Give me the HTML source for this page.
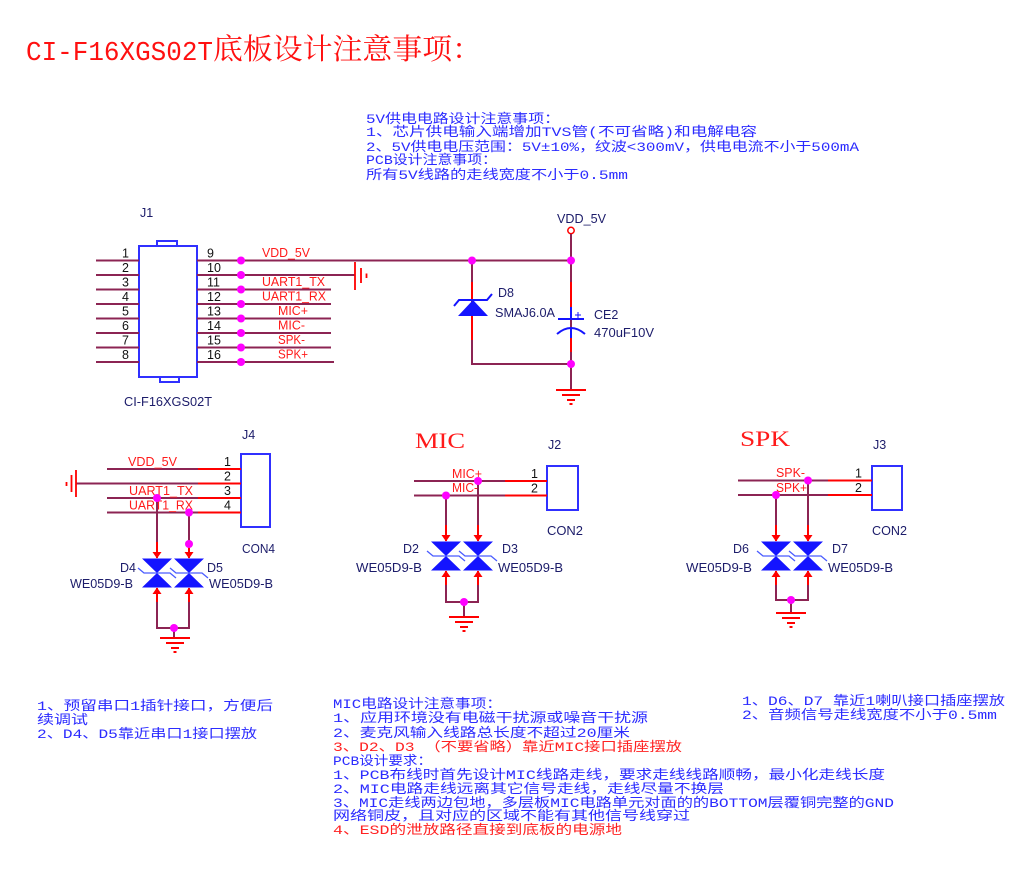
<!DOCTYPE html>
<html><head><meta charset="utf-8"><style>
html,body{margin:0;padding:0;background:#fff;width:1034px;height:875px;overflow:hidden}
svg{display:block}
.l{font-family:"Liberation Sans",sans-serif;font-size:12.5px;fill:#1c1c6a}
.p{font-family:"Liberation Sans",sans-serif;font-size:12.5px;fill:#111}
.r{font-family:"Liberation Sans",sans-serif;font-size:12.5px;fill:#ff1a1a}
.t{font-family:"Liberation Mono","Noto Sans CJK SC",monospace;font-size:13px;fill:#2b2bff}
.tr{fill:#ff2222}
.w{stroke:#8c2453;stroke-width:2;fill:none}
.rd{stroke:#ff0000;stroke-width:2;fill:none}
.bx{stroke:#3030ff;stroke-width:2;fill:none}
.dot{fill:#ff00ff}
</style></head><body>
<svg width="1034" height="875" viewBox="0 0 1034 875" xmlns="http://www.w3.org/2000/svg">
<defs>
<g id="tvs">
<path d="M0 -31V-15 M0 15V29" stroke="#ff0000" stroke-width="2" fill="none"/>
<polygon points="-4.5,-21 4.5,-21 0,-14.5" fill="#ff0000"/>
<polygon points="-4.5,21 4.5,21 0,14.5" fill="#ff0000"/>
<polygon points="-15,-14.5 15,-14.5 0,0" fill="#1414ff"/>
<polygon points="-15,14.5 15,14.5 0,0" fill="#1414ff"/>
<polyline points="-19,-5 -13,0 13,0 19,5" stroke="#4a5cff" stroke-width="1.3" fill="none"/>
</g>
<g id="gnd">
<path d="M-15 0H15 M-9 5H9 M-4 10H4 M-1.5 14H1.5" stroke="#ff0000" stroke-width="2" fill="none"/>
</g>
</defs>

<!-- Title -->
<text x="26" y="60" font-family="Liberation Mono, monospace" font-size="27" fill="#ff1010" textLength="187" lengthAdjust="spacingAndGlyphs">CI-F16XGS02T</text>
<text x="213" y="59" font-family="Liberation Serif, 'Noto Serif CJK SC', serif" font-size="29" fill="#ff1010" textLength="269" lengthAdjust="spacingAndGlyphs">底板设计注意事项：</text>

<!-- Top notes -->
<text class="t" x="366" y="123" textLength="194" lengthAdjust="spacingAndGlyphs">5V供电电路设计注意事项：</text>
<text class="t" x="366" y="136" textLength="391" lengthAdjust="spacingAndGlyphs">1、芯片供电输入端增加TVS管(不可省略)和电解电容</text>
<text class="t" x="366" y="151" textLength="493" lengthAdjust="spacingAndGlyphs">2、5V供电电压范围：5V±10%，纹波&lt;300mV，供电电流不小于500mA</text>
<text class="t" x="366" y="164" textLength="131" lengthAdjust="spacingAndGlyphs">PCB设计注意事项：</text>
<text class="t" x="366" y="179" textLength="262" lengthAdjust="spacingAndGlyphs">所有5V线路的走线宽度不小于0.5mm</text>

<!-- J1 -->
<text class="l" x="140" y="217">J1</text>
<rect class="bx" x="139" y="246" width="58" height="131"/>
<rect class="bx" x="157" y="241" width="20" height="5"/>
<rect class="bx" x="160" y="377" width="19" height="5"/>
<path class="w" d="M96 260.5H139 M96 275H139 M96 289.5H139 M96 304H139 M96 318.5H139 M96 333H139 M96 347.5H139 M96 362H139"/>
<path class="w" d="M197 260.5H571 M197 275H355 M197 289.5H331 M197 304H331 M197 318.5H331 M197 333H331 M197 347.5H331 M197 362H334"/>
<g class="p">
<text x="122" y="257.5">1</text><text x="122" y="272">2</text><text x="122" y="286.5">3</text><text x="122" y="301">4</text>
<text x="122" y="315.5">5</text><text x="122" y="330">6</text><text x="122" y="344.5">7</text><text x="122" y="359">8</text>
<text x="207" y="257.5">9</text><text x="207" y="272">10</text><text x="207" y="286.5">11</text><text x="207" y="301">12</text>
<text x="207" y="315.5">13</text><text x="207" y="330">14</text><text x="207" y="344.5">15</text><text x="207" y="359">16</text>
</g>
<g class="r">
<text x="262" y="257" textLength="48" lengthAdjust="spacingAndGlyphs">VDD_5V</text>
<text x="262" y="286" textLength="63" lengthAdjust="spacingAndGlyphs">UART1_TX</text>
<text x="262" y="300.5" textLength="64" lengthAdjust="spacingAndGlyphs">UART1_RX</text>
<text x="278" y="315" textLength="30" lengthAdjust="spacingAndGlyphs">MIC+</text>
<text x="278" y="329.5" textLength="27" lengthAdjust="spacingAndGlyphs">MIC-</text>
<text x="278" y="344" textLength="27" lengthAdjust="spacingAndGlyphs">SPK-</text>
<text x="278" y="358.5" textLength="30" lengthAdjust="spacingAndGlyphs">SPK+</text>
</g>
<g class="dot">
<circle cx="241" cy="260.5" r="4"/><circle cx="241" cy="275" r="4"/><circle cx="241" cy="289.5" r="4"/><circle cx="241" cy="304" r="4"/>
<circle cx="241" cy="318.5" r="4"/><circle cx="241" cy="333" r="4"/><circle cx="241" cy="347.5" r="4"/><circle cx="241" cy="362" r="4"/>
</g>
<path d="M355 262V290 M361 268V283 M366.5 273.5V278" stroke="#ff0000" stroke-width="1.8" fill="none"/>
<text class="l" x="124" y="406" textLength="88" lengthAdjust="spacingAndGlyphs">CI-F16XGS02T</text>

<!-- Power section -->
<text class="l" x="557" y="223" fill="#1a1a3a" textLength="49" lengthAdjust="spacingAndGlyphs">VDD_5V</text>
<circle cx="571" cy="230.5" r="3.2" fill="#fff" stroke="#ff0000" stroke-width="1.5"/>
<path class="w" d="M571 234V390 M472 260.5V364H571"/>
<path class="rd" d="M472 282V300 M472 316V340 M571 282V307 M571 337V352"/>
<polygon points="458,316 488,316 473,300" fill="#1414ff"/>
<polyline points="454,306 459,300 487,300 492,294" stroke="#1414ff" stroke-width="2" fill="none"/>
<path d="M571 307V319 M558 319H584 M557 334Q571 322 585 334 M571 328V338" stroke="#1414ff" stroke-width="2" fill="none"/>
<path d="M575 315H581 M578 312V318" stroke="#1414ff" stroke-width="1" fill="none"/>
<circle class="dot" cx="472" cy="260.5" r="4"/><circle class="dot" cx="571" cy="260.5" r="4"/><circle class="dot" cx="571" cy="364" r="4"/>
<use href="#gnd" x="571" y="390"/>
<text class="l" x="498" y="297">D8</text>
<text class="l" x="495" y="317" textLength="60" lengthAdjust="spacingAndGlyphs">SMAJ6.0A</text>
<text class="l" x="594" y="319">CE2</text>
<text class="l" x="594" y="337" textLength="60" lengthAdjust="spacingAndGlyphs">470uF10V</text>

<!-- J4 -->
<text class="l" x="242" y="439">J4</text>
<rect class="bx" x="241" y="454" width="29" height="73"/>
<path class="w" d="M107 469H198 M76 483.5H198 M107 498H198 M107 512.5H198"/>
<path class="rd" d="M198 469H241 M198 483.5H241 M198 498H241 M198 512.5H241"/>
<path d="M76 470V497 M71.5 475V492 M66.5 482V486" stroke="#ff0000" stroke-width="1.8" fill="none"/>
<g class="p"><text x="224" y="466">1</text><text x="224" y="480.5">2</text><text x="224" y="495">3</text><text x="224" y="509.5">4</text></g>
<g class="r">
<text x="128" y="466" textLength="49" lengthAdjust="spacingAndGlyphs">VDD_5V</text>
<text x="129" y="495" textLength="64" lengthAdjust="spacingAndGlyphs">UART1_TX</text>
<text x="129" y="509.5" textLength="64" lengthAdjust="spacingAndGlyphs">UART1_RX</text>
</g>
<path class="w" d="M157 498V542 M189 512.5V542 M157 602V628H189V602 M174 628V638"/>
<use href="#tvs" x="157" y="573"/><use href="#tvs" x="189" y="573"/>
<circle class="dot" cx="157" cy="498" r="4"/><circle class="dot" cx="189" cy="512.5" r="4"/><circle class="dot" cx="189" cy="544" r="4"/><circle class="dot" cx="174" cy="628" r="4"/>
<use href="#gnd" x="175" y="638"/>
<text class="l" x="120" y="572">D4</text>
<text class="l" x="70" y="588" textLength="63" lengthAdjust="spacingAndGlyphs">WE05D9-B</text>
<text class="l" x="207" y="572">D5</text>
<text class="l" x="209" y="588" textLength="64" lengthAdjust="spacingAndGlyphs">WE05D9-B</text>
<text class="l" x="242" y="553" textLength="33" lengthAdjust="spacingAndGlyphs">CON4</text>

<!-- MIC -->
<text x="415" y="448" font-family="Liberation Serif, serif" font-size="22" fill="#ff1a1a" textLength="50" lengthAdjust="spacingAndGlyphs">MIC</text>
<text class="l" x="548" y="449">J2</text>
<rect class="bx" x="547" y="466" width="31" height="44"/>
<path class="w" d="M414 481H505 M414 495.5H505"/>
<path class="rd" d="M505 481H547 M505 495.5H547"/>
<g class="p"><text x="531" y="478">1</text><text x="531" y="492.5">2</text></g>
<text class="r" x="452" y="478" font-size="12" textLength="30" lengthAdjust="spacingAndGlyphs">MIC+</text>
<text class="r" x="452" y="492" font-size="12" textLength="26" lengthAdjust="spacingAndGlyphs">MIC-</text>
<path class="w" d="M478 481V525 M446 495.5V525 M446 585V602H478V585 M464 602V617"/>
<use href="#tvs" x="446" y="556"/><use href="#tvs" x="478" y="556"/>
<circle class="dot" cx="478" cy="481" r="4"/><circle class="dot" cx="446" cy="495.5" r="4"/><circle class="dot" cx="464" cy="602" r="4"/>
<use href="#gnd" x="464" y="617"/>
<text class="l" x="403" y="553">D2</text>
<text class="l" x="356" y="572" textLength="66" lengthAdjust="spacingAndGlyphs">WE05D9-B</text>
<text class="l" x="502" y="553">D3</text>
<text class="l" x="498" y="572" textLength="65" lengthAdjust="spacingAndGlyphs">WE05D9-B</text>
<text class="l" x="547" y="535" textLength="36" lengthAdjust="spacingAndGlyphs">CON2</text>

<!-- SPK -->
<text x="740" y="446" font-family="Liberation Serif, serif" font-size="22" fill="#ff1a1a" textLength="50" lengthAdjust="spacingAndGlyphs">SPK</text>
<text class="l" x="873" y="449">J3</text>
<rect class="bx" x="872" y="466" width="30" height="44"/>
<path class="w" d="M738 480.5H828 M738 495H828"/>
<path class="rd" d="M828 480.5H872 M828 495H872"/>
<g class="p"><text x="855" y="477.5">1</text><text x="855" y="492">2</text></g>
<text class="r" x="776" y="477" font-size="12" textLength="29" lengthAdjust="spacingAndGlyphs">SPK-</text>
<text class="r" x="776" y="492" font-size="12" textLength="31" lengthAdjust="spacingAndGlyphs">SPK+</text>
<path class="w" d="M808 480.5V525 M776 495V525 M776 585V600H808V585 M791 600V613"/>
<use href="#tvs" x="776" y="556"/><use href="#tvs" x="808" y="556"/>
<circle class="dot" cx="808" cy="480.5" r="4"/><circle class="dot" cx="776" cy="495" r="4"/><circle class="dot" cx="791" cy="600" r="4"/>
<use href="#gnd" x="791" y="613"/>
<text class="l" x="733" y="553">D6</text>
<text class="l" x="686" y="572" textLength="66" lengthAdjust="spacingAndGlyphs">WE05D9-B</text>
<text class="l" x="832" y="553">D7</text>
<text class="l" x="828" y="572" textLength="65" lengthAdjust="spacingAndGlyphs">WE05D9-B</text>
<text class="l" x="872" y="535" textLength="35" lengthAdjust="spacingAndGlyphs">CON2</text>

<!-- Bottom left notes -->
<text class="t" x="37" y="710" textLength="236" lengthAdjust="spacingAndGlyphs">1、预留串口1插针接口，方便后</text>
<text class="t" x="37" y="724" textLength="51" lengthAdjust="spacingAndGlyphs">续调试</text>
<text class="t" x="37" y="738" textLength="220" lengthAdjust="spacingAndGlyphs">2、D4、D5靠近串口1接口摆放</text>

<!-- Middle notes -->
<text class="t" x="333" y="708" textLength="169" lengthAdjust="spacingAndGlyphs">MIC电路设计注意事项：</text>
<text class="t" x="333" y="722" textLength="315" lengthAdjust="spacingAndGlyphs">1、应用环境没有电磁干扰源或噪音干扰源</text>
<text class="t" x="333" y="737" textLength="297" lengthAdjust="spacingAndGlyphs">2、麦克风输入线路总长度不超过20厘米</text>
<text class="t tr" x="333" y="751" textLength="349" lengthAdjust="spacingAndGlyphs">3、D2、D3 （不要省略）靠近MIC接口插座摆放</text>
<text class="t" x="333" y="765" textLength="99" lengthAdjust="spacingAndGlyphs">PCB设计要求：</text>
<text class="t" x="333" y="779" textLength="552" lengthAdjust="spacingAndGlyphs">1、PCB布线时首先设计MIC线路走线，要求走线线路顺畅，最小化走线长度</text>
<text class="t" x="333" y="793" textLength="391" lengthAdjust="spacingAndGlyphs">2、MIC电路走线远离其它信号走线，走线尽量不换层</text>
<text class="t" x="333" y="807" textLength="561" lengthAdjust="spacingAndGlyphs">3、MIC走线两边包地，多层板MIC电路单元对面的的BOTTOM层覆铜完整的GND</text>
<text class="t" x="333" y="820" textLength="357" lengthAdjust="spacingAndGlyphs">网络铜皮，且对应的区域不能有其他信号线穿过</text>
<text class="t tr" x="333" y="834" textLength="289" lengthAdjust="spacingAndGlyphs">4、ESD的泄放路径直接到底板的电源地</text>

<!-- Right notes -->
<text class="t" x="742" y="705" font-size="12" textLength="263" lengthAdjust="spacingAndGlyphs">1、D6、D7 靠近1喇叭接口插座摆放</text>
<text class="t" x="742" y="719" font-size="12" textLength="255" lengthAdjust="spacingAndGlyphs">2、音频信号走线宽度不小于0.5mm</text>
</svg>
</body></html>
